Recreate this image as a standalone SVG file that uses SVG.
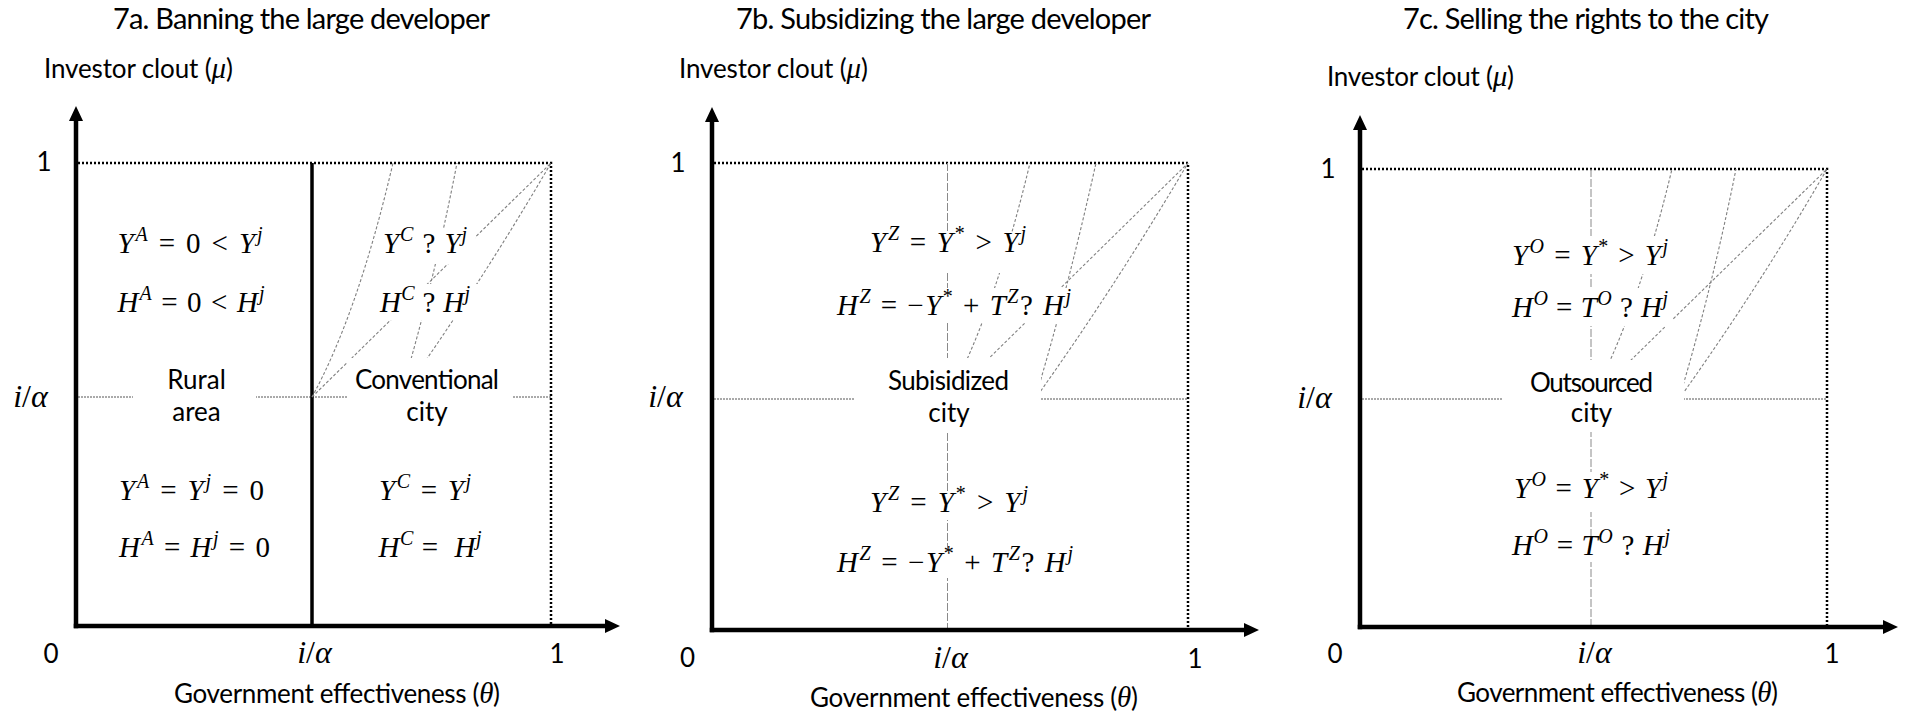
<svg xmlns="http://www.w3.org/2000/svg" width="1908" height="717" viewBox="0 0 1908 717">
<defs>
<marker id="ah" viewBox="0 0 15 14" markerWidth="15" markerHeight="14" refX="7" refY="7" orient="auto" markerUnits="userSpaceOnUse"><path d="M0,0 L15,7 L0,14 z" fill="#000"/></marker>
</defs>
<style>
.t{font-family:Lato,"Liberation Sans",sans-serif;fill:#000;font-size:26px}
.ti{font-size:29px}
.m{font-family:"Liberation Serif","DejaVu Serif",serif;font-size:29px;fill:#000}
.ia{font-size:32px}
.i{font-style:italic}
.s{font-size:20px}
.ax{stroke:#000;stroke-width:4.5;fill:none}
.vs{stroke:#000;stroke-width:3.5;fill:none}
.brd{stroke:#000;stroke-width:2.5;stroke-dasharray:2 2;fill:none}
.lvl{stroke:#555;stroke-width:1;stroke-dasharray:2 1;fill:none}
.vd{stroke:#8a8a8a;stroke-width:1;stroke-dasharray:8 2;fill:none}
.cv{stroke:#808080;stroke-width:1.1;stroke-dasharray:3 2;fill:none}
.bx{fill:#fff;stroke:none}
</style>
<rect width="1908" height="717" fill="#fff"/>

<g id="frame-7a">
<path class="brd" d="M78,163 H551 V624"/>
<path class="lvl" d="M78,397 H551"/>
<path class="vs" d="M312,163 V626"/>
</g>
<g id="frame-7b">
<path class="brd" d="M714,163 H1188 V628"/>
<path class="lvl" d="M714,399 H1188"/>
<path class="vd" d="M947.5,163 V630"/>
</g>
<g id="frame-7c">
<path class="brd" d="M1362,169 H1827 V625"/>
<path class="lvl" d="M1362,399 H1827"/>
<path class="vd" d="M1591,169 V627"/>
</g>

<g id="connectors">
<path class="cv" d="M312,397 Q358,313 393,163"/>
<path class="cv" d="M312,397 L551,163"/>
<path class="cv" d="M400,397 Q433,287 457,163"/>
<path class="cv" d="M400,397 Q480,285 551,163"/>
<path class="cv" d="M947.5,399 Q993.5,315 1030,163"/>
<path class="cv" d="M947.5,399 L1188,163"/>
<path class="cv" d="M1035,399 Q1068,289 1096,163"/>
<path class="cv" d="M1035,399 Q1115,287 1188,163"/>
<path class="cv" d="M1591,399 Q1637,315 1672,169"/>
<path class="cv" d="M1591,399 L1827,169"/>
<path class="cv" d="M1679,399 Q1712,289 1736,169"/>
<path class="cv" d="M1679,399 Q1759,287 1827,169"/>
</g>

<g id="axes">
<line class="ax" x1="76" y1="628.25" x2="76" y2="114" marker-end="url(#ah)"/>
<line class="ax" x1="73.75" y1="626" x2="612" y2="626" marker-end="url(#ah)"/>
<line class="ax" x1="712" y1="632.25" x2="712" y2="115" marker-end="url(#ah)"/>
<line class="ax" x1="709.75" y1="630" x2="1251" y2="630" marker-end="url(#ah)"/>
<line class="ax" x1="1360" y1="629.25" x2="1360" y2="123" marker-end="url(#ah)"/>
<line class="ax" x1="1357.75" y1="627" x2="1890" y2="627" marker-end="url(#ah)"/>
</g>

<!-- Panel 7a labels -->
<g id="labels-7a">
<text class="t ti" x="301.5" y="29" text-anchor="middle" textLength="377">7a. Banning the large developer</text>
<text class="t" x="138.5" y="78" text-anchor="middle" textLength="189">Investor clout (<tspan class="m i">μ</tspan>)</text>
<text class="t" x="44" y="171" text-anchor="middle">1</text>
<text class="m ia" x="30.5" y="407" text-anchor="middle"><tspan class="i">i</tspan>/<tspan class="i">α</tspan></text>
<text class="t" x="51" y="663" text-anchor="middle">0</text>
<text class="m ia" x="314.5" y="663" text-anchor="middle"><tspan class="i">i</tspan>/<tspan class="i">α</tspan></text>
<text class="t" x="557" y="663" text-anchor="middle">1</text>
<text class="t" x="337" y="703" text-anchor="middle" textLength="326">Government effectiveness (<tspan class="m i">θ</tspan>)</text>
</g>

<g id="node-7a-rural-y">
<rect class="bx" x="112" y="228" width="158" height="36"/>
<text class="m" x="190" y="253" text-anchor="middle" textLength="145"><tspan class="i">Y</tspan><tspan class="i s" dy="-12">A</tspan><tspan dy="12"> = 0 &lt; </tspan><tspan class="i">Y</tspan><tspan class="i s" dy="-12">j</tspan></text>
</g>
<g id="node-7a-rural-h">
<rect class="bx" x="112" y="284" width="160" height="36"/>
<text class="m" x="191" y="312" text-anchor="middle" textLength="147"><tspan class="i">H</tspan><tspan class="i s" dy="-12">A</tspan><tspan dy="12"> = 0 &lt; </tspan><tspan class="i">H</tspan><tspan class="i s" dy="-12">j</tspan></text>
</g>
<g id="node-7a-rural">
<rect class="bx" x="133" y="360" width="123" height="72"/>
<text class="t" x="196.5" y="389" text-anchor="middle">Rural</text>
<text class="t" x="196.5" y="421" text-anchor="middle">area</text>
</g>
<g id="node-7a-rural-y2">
<rect class="bx" x="114" y="478" width="156" height="32"/>
<text class="m" x="191.5" y="500" text-anchor="middle" textLength="145"><tspan class="i">Y</tspan><tspan class="i s" dy="-12">A</tspan><tspan dy="12"> = </tspan><tspan class="i">Y</tspan><tspan class="i s" dy="-12">j</tspan><tspan dy="12"> = 0</tspan></text>
</g>
<g id="node-7a-rural-h2">
<rect class="bx" x="114" y="535" width="162" height="32"/>
<text class="m" x="194.5" y="557" text-anchor="middle" textLength="151"><tspan class="i">H</tspan><tspan class="i s" dy="-12">A</tspan><tspan dy="12"> = </tspan><tspan class="i">H</tspan><tspan class="i s" dy="-12">j</tspan><tspan dy="12"> = 0</tspan></text>
</g>
<g id="node-7a-conv-y">
<rect class="bx" x="380" y="228" width="95" height="36"/>
<text class="m" x="425" y="253" text-anchor="middle" textLength="84"><tspan class="i">Y</tspan><tspan class="i s" dy="-12">C</tspan><tspan dy="12"> ? </tspan><tspan class="i">Y</tspan><tspan class="i s" dy="-12">j</tspan></text>
</g>
<g id="node-7a-conv-h">
<rect class="bx" x="368" y="284" width="114" height="36"/>
<text class="m" x="425" y="312" text-anchor="middle" textLength="90"><tspan class="i">H</tspan><tspan class="i s" dy="-12">C</tspan><tspan dy="12"> ? </tspan><tspan class="i">H</tspan><tspan class="i s" dy="-12">j</tspan></text>
</g>
<g id="node-7a-conv">
<rect class="bx" x="347" y="358" width="166" height="74"/>
<text class="t" x="427" y="389" text-anchor="middle" textLength="144">Conventional</text>
<text class="t" x="427" y="421" text-anchor="middle">city</text>
</g>
<g id="node-7a-conv-y2">
<rect class="bx" x="374" y="478" width="102" height="32"/>
<text class="m" x="425" y="500" text-anchor="middle" textLength="92"><tspan class="i">Y</tspan><tspan class="i s" dy="-12">C</tspan><tspan dy="12"> = </tspan><tspan class="i">Y</tspan><tspan class="i s" dy="-12">j</tspan></text>
</g>
<g id="node-7a-conv-h2">
<rect class="bx" x="374" y="535" width="113" height="32"/>
<text class="m" x="430" y="557" text-anchor="middle" textLength="103"><tspan class="i">H</tspan><tspan class="i s" dy="-12">C</tspan><tspan dy="12"> =&#160; </tspan><tspan class="i">H</tspan><tspan class="i s" dy="-12">j</tspan></text>
</g>

<!-- Panel 7b -->
<g id="labels-7b">
<text class="t ti" x="943.5" y="29" text-anchor="middle" textLength="415">7b. Subsidizing the large developer</text>
<text class="t" x="773.5" y="78" text-anchor="middle" textLength="189">Investor clout (<tspan class="m i">μ</tspan>)</text>
<text class="t" x="678" y="172" text-anchor="middle">1</text>
<text class="m ia" x="665.5" y="407" text-anchor="middle"><tspan class="i">i</tspan>/<tspan class="i">α</tspan></text>
<text class="t" x="687.5" y="667" text-anchor="middle">0</text>
<text class="m ia" x="950.5" y="668" text-anchor="middle"><tspan class="i">i</tspan>/<tspan class="i">α</tspan></text>
<text class="t" x="1195" y="668" text-anchor="middle">1</text>
<text class="t" x="974" y="707" text-anchor="middle" textLength="328">Government effectiveness (<tspan class="m i">θ</tspan>)</text>
</g>
<g id="node-7b-y">
<rect class="bx" x="865" y="233" width="166" height="40"/>
<text class="m" x="948" y="252" text-anchor="middle" textLength="156"><tspan class="i">Y</tspan><tspan class="i s" dy="-12">Z</tspan><tspan dy="12"> = </tspan><tspan class="i">Y</tspan><tspan class="s" dy="-12">*</tspan><tspan dy="12"> &gt; </tspan><tspan class="i">Y</tspan><tspan class="i s" dy="-12">j</tspan></text>
</g>
<g id="node-7b-h">
<rect class="bx" x="826" y="288" width="247" height="35"/>
<text class="m" x="954" y="315" text-anchor="middle" textLength="234"><tspan class="i">H</tspan><tspan class="i s" dy="-12">Z</tspan><tspan dy="12"> = −</tspan><tspan class="i">Y</tspan><tspan class="s" dy="-12">*</tspan><tspan dy="12"> + </tspan><tspan class="i">T</tspan><tspan class="i s" dy="-12">Z</tspan><tspan dy="12">? </tspan><tspan class="i">H</tspan><tspan class="i s" dy="-12">j</tspan></text>
</g>
<g id="node-7b-city">
<rect class="bx" x="855" y="358" width="186" height="75"/>
<text class="t" x="948.5" y="390" text-anchor="middle" textLength="121">Subisidized</text>
<text class="t" x="949" y="422" text-anchor="middle">city</text>
</g>
<g id="node-7b-y2">
<rect class="bx" x="865" y="492" width="168" height="28"/>
<text class="m" x="949" y="512" text-anchor="middle" textLength="158"><tspan class="i">Y</tspan><tspan class="i s" dy="-12">Z</tspan><tspan dy="12"> = </tspan><tspan class="i">Y</tspan><tspan class="s" dy="-12">*</tspan><tspan dy="12"> &gt; </tspan><tspan class="i">Y</tspan><tspan class="i s" dy="-12">j</tspan></text>
</g>
<g id="node-7b-h2">
<rect class="bx" x="826" y="550" width="252" height="28"/>
<text class="m" x="955" y="572" text-anchor="middle" textLength="236"><tspan class="i">H</tspan><tspan class="i s" dy="-12">Z</tspan><tspan dy="12"> = −</tspan><tspan class="i">Y</tspan><tspan class="s" dy="-12">*</tspan><tspan dy="12"> + </tspan><tspan class="i">T</tspan><tspan class="i s" dy="-12">Z</tspan><tspan dy="12">? </tspan><tspan class="i">H</tspan><tspan class="i s" dy="-12">j</tspan></text>
</g>

<!-- Panel 7c -->
<g id="labels-7c">
<text class="t ti" x="1586" y="29" text-anchor="middle" textLength="366">7c. Selling the rights to the city</text>
<text class="t" x="1420.5" y="86" text-anchor="middle" textLength="187">Investor clout (<tspan class="m i">μ</tspan>)</text>
<text class="t" x="1328" y="178" text-anchor="middle">1</text>
<text class="m ia" x="1314.5" y="408" text-anchor="middle"><tspan class="i">i</tspan>/<tspan class="i">α</tspan></text>
<text class="t" x="1335" y="663" text-anchor="middle">0</text>
<text class="m ia" x="1594.5" y="663" text-anchor="middle"><tspan class="i">i</tspan>/<tspan class="i">α</tspan></text>
<text class="t" x="1832" y="663" text-anchor="middle">1</text>
<text class="t" x="1617.5" y="702" text-anchor="middle" textLength="321">Government effectiveness (<tspan class="m i">θ</tspan>)</text>
</g>
<g id="node-7c-y">
<rect class="bx" x="1506" y="236" width="167" height="38"/>
<text class="m" x="1590" y="265" text-anchor="middle" textLength="156"><tspan class="i">Y</tspan><tspan class="i s" dy="-12">O</tspan><tspan dy="12"> = </tspan><tspan class="i">Y</tspan><tspan class="s" dy="-12">*</tspan><tspan dy="12"> &gt; </tspan><tspan class="i">Y</tspan><tspan class="i s" dy="-12">j</tspan></text>
</g>
<g id="node-7c-h">
<rect class="bx" x="1506" y="288" width="167" height="38"/>
<text class="m" x="1590" y="317" text-anchor="middle" textLength="156"><tspan class="i">H</tspan><tspan class="i s" dy="-12">O</tspan><tspan dy="12"> = </tspan><tspan class="i">T</tspan><tspan class="i s" dy="-12">O</tspan><tspan dy="12"> ? </tspan><tspan class="i">H</tspan><tspan class="i s" dy="-12">j</tspan></text>
</g>
<g id="node-7c-city">
<rect class="bx" x="1503" y="360" width="181" height="72"/>
<text class="t" x="1591.5" y="392" text-anchor="middle" textLength="123">Outsourced</text>
<text class="t" x="1591.5" y="422" text-anchor="middle">city</text>
</g>
<g id="node-7c-y2">
<rect class="bx" x="1506" y="472" width="167" height="40"/>
<text class="m" x="1591" y="498" text-anchor="middle" textLength="154"><tspan class="i">Y</tspan><tspan class="i s" dy="-12">O</tspan><tspan dy="12"> = </tspan><tspan class="i">Y</tspan><tspan class="s" dy="-12">*</tspan><tspan dy="12"> &gt; </tspan><tspan class="i">Y</tspan><tspan class="i s" dy="-12">j</tspan></text>
</g>
<g id="node-7c-h2">
<rect class="bx" x="1506" y="537" width="167" height="25"/>
<text class="m" x="1591" y="555" text-anchor="middle" textLength="158"><tspan class="i">H</tspan><tspan class="i s" dy="-12">O</tspan><tspan dy="12"> = </tspan><tspan class="i">T</tspan><tspan class="i s" dy="-12">O</tspan><tspan dy="12"> ? </tspan><tspan class="i">H</tspan><tspan class="i s" dy="-12">j</tspan></text>
</g>
</svg>
